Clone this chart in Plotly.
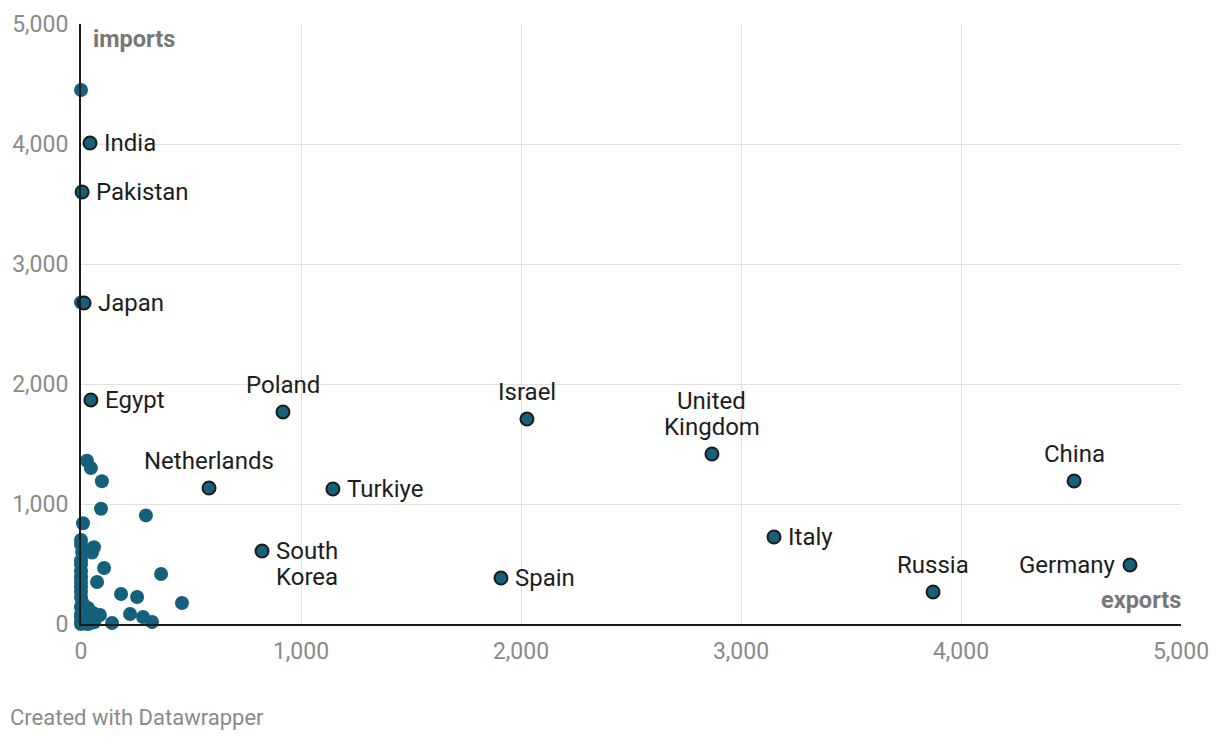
import plotly.graph_objects as go

# Labeled countries: exports (x) and imports (y)
countries = ["India", "Pakistan", "Japan", "Egypt", "Poland", "Israel",
             "United Kingdom", "China", "Netherlands", "Turkiye", "Italy",
             "South Korea", "Spain", "Russia", "Germany"]
exports_lab = [41, 5, 14, 45, 918, 2027, 2868, 4514, 582, 1145, 3150, 823, 1909, 3873, 4768]
imports_lab = [4008, 3600, 2675, 1867, 1767, 1708, 1417, 1192, 1133, 1125, 725, 608, 383, 267, 492]
label_text = ["India", "Pakistan", "Japan", "Egypt", "Poland", "Israel",
              "United<br>Kingdom", "China", "Netherlands", "Turkiye", "Italy",
              "South<br>Korea", "Spain", "Russia", "Germany"]
label_pos = ["right", "right", "right", "right", "top", "top", "top", "top", "top",
             "right", "right", "right", "right", "top", "left"]

# Unlabeled countries
exports_other = [0, 0, 27, 45, 95, 91, 295, 9, 0, 0, 59, 50, 0, 0, 105, 364, 0, 73, 0,
                 182, 255, 459, 0, 0, 32, 55, 86, 223, 282, 323, 141,
                 0, 10, 20, 40, 5, 15, 25, 45, 60, 0, 30, 0, 10, 20, 0, 0, 5, 0, 0]
imports_other = [4450, 2680, 1360, 1300, 1190, 960, 905, 840, 700, 660, 640, 595, 530, 495,
                 467, 417, 390, 350, 310, 250, 225, 175, 225, 140, 133, 92, 75, 83, 58, 17, 8,
                 60, 30, 10, 5, 180, 100, 50, 30, 15, 0, 0, 270, 160, 120, 350, 440, 600, 20, 80]

tick_vals = [0, 1000, 2000, 3000, 4000, 5000]

BLUE = "#15607a"
LINE_H = 26

fig = go.Figure()
fig.add_trace(go.Scatter(
    x=exports_other, y=imports_other, mode="markers",
    marker=dict(size=14, color=BLUE, line=dict(width=0)),
    cliponaxis=False, hoverinfo="skip", showlegend=False))
fig.add_trace(go.Scatter(
    x=exports_lab, y=imports_lab, mode="markers", text=countries,
    marker=dict(size=13, color=BLUE, line=dict(width=2, color="#1b1b1b")),
    cliponaxis=False, showlegend=False))

for xv, yv, t, p in zip(exports_lab, imports_lab, label_text, label_pos):
    lines = t.split("<br>")
    n = len(lines)
    for i, ln in enumerate(lines):
        if p == "right":
            kw = dict(xanchor="left", yanchor="middle", xshift=12, yshift=-i * LINE_H)
        elif p == "left":
            kw = dict(xanchor="right", yanchor="middle", xshift=-12, yshift=-i * LINE_H)
        else:
            kw = dict(xanchor="center", yanchor="middle", xshift=0,
                      yshift=27 + (n - 1 - i) * LINE_H)
        fig.add_annotation(x=xv, y=yv, text=ln, showarrow=False,
                           font=dict(family="Roboto", size=24, color="#1d1d1d"), **kw)

fig.add_annotation(xref="paper", yref="paper", x=0, y=1, xshift=10, yshift=1,
                   xanchor="left", yanchor="top", text="<b>imports</b>", showarrow=False,
                   font=dict(family="Roboto", size=23.5, color="#777777"))
fig.add_annotation(xref="paper", yref="paper", x=1, y=0, xshift=2, yshift=8,
                   xanchor="right", yanchor="bottom", text="<b>exports</b>", showarrow=False,
                   font=dict(family="Roboto", size=23.5, color="#777777"))
fig.add_annotation(xref="paper", yref="paper", x=0, y=0, xshift=-73, yshift=-93,
                   xanchor="left", yanchor="middle", text="Created with Datawrapper",
                   showarrow=False, font=dict(family="Roboto", size=22, color="#8a8a8a"))

axis_common = dict(
    range=[0, 5000], tickvals=tick_vals, tickformat=",", ticks="",
    showgrid=True, gridcolor="#e0e0e0", gridwidth=1,
    zeroline=False, showline=True, linecolor="#1a1a1a", linewidth=2,
    tickfont=dict(family="Roboto", size=23, color="#8a8a8a"),
    fixedrange=True, automargin=False,
)
fig.update_xaxes(**axis_common, ticklabelstandoff=5)
fig.update_yaxes(**axis_common, ticklabelstandoff=6)

fig.update_layout(
    width=1220, height=740,
    margin=dict(l=81, r=39, t=24, b=116, autoexpand=False),
    paper_bgcolor="white", plot_bgcolor="white",
    font=dict(family="Roboto"),
)

fig.write_html("out.html")
